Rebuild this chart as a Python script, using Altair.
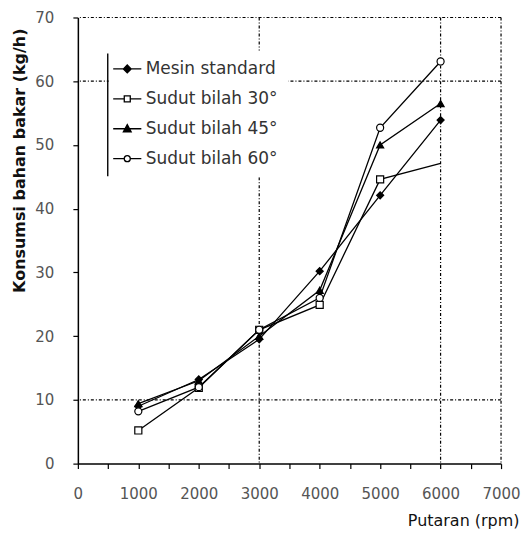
import altair as alt
import pandas as pd

# ---- data ----
rpm = [1000, 2000, 3000, 4000, 5000, 6000]
series_names = ["Mesin standard", "Sudut bilah 30°", "Sudut bilah 45°", "Sudut bilah 60°"]
standard = [9.0, 13.2, 19.5, 30.2, 42.1, 53.9]
sudut30 = [5.2, 11.9, 21.0, 24.9, 44.6, 47.1]
sudut45 = [9.4, 13.0, 20.0, 27.2, 50.0, 56.5]
sudut60 = [8.2, 12.0, 21.0, 26.0, 52.7, 63.1]

x_ticks = list(range(0, 7001, 500))
y_ticks = list(range(0, 71, 10))
grid_x = [3000, 6000, 7000]
grid_y = [10, 60, 70]

marker_shapes = ["diamond", "square", "triangle-up", "circle"]
marker_fills = ["black", "white", "black", "white"]
legend_strokes = ["black", "black", "black", "black"]
legend_paths = [
    "M-4.7,0H4.7M0,-1.3L1.3,0L0,1.3L-1.3,0Z",
    "M-4.7,0H-1M1,0H4.7M-1,-1H1V1H-1Z",
    "M-4.7,0H4.7M0,-1.4L1.3,1H-1.3Z",
    "M-4.7,0H-1M1,0H4.7M1,0A1,1,0,1,1,-1,0A1,1,0,1,1,1,0Z",
]

rows = []
for name, vals in zip(series_names, [standard, sudut30, sudut45, sudut60]):
    for r, v in zip(rpm, vals):
        rows.append({"rpm": r, "val": v, "series": name})
df = pd.DataFrame(rows)

FONT = "DejaVu Sans"
x_scale = alt.Scale(domain=[0, 7000], nice=False, zero=True)
y_scale = alt.Scale(domain=[0, 70], nice=False, zero=True)

x_axis = alt.Axis(
    values=x_ticks, format="d",
    labelExpr="datum.value % 1000 == 0 ? datum.label : ''",
    title="Putaran (rpm)", titleFontWeight="normal", titleFontSize=16,
    titleX=442, titleY=57, titleAlign="right", titleBaseline="middle",
    labelPadding=18, labelFlush=False, labelOverlap=False,
    tickSize=5, grid=False,
)
y_axis = alt.Axis(
    values=y_ticks, format="d",
    title="Konsumsi bahan bakar  (kg/h)", titleFontWeight="bold", titleFontSize=16,
    titleX=-58, titleY=143, titleAlign="center", titleBaseline="middle", titleAngle=270,
    labelPadding=19, labelFlush=False, labelOverlap=False,
    tickSize=5, grid=False,
)

X = alt.X("rpm:Q", scale=x_scale, axis=x_axis, title="Putaran (rpm)")
Y = alt.Y("val:Q", scale=y_scale, axis=y_axis, title="Konsumsi bahan bakar  (kg/h)")

lines = alt.Chart(df).mark_line(color="black", strokeWidth=1.3).encode(
    x=X, y=Y, detail="series:N",
)

grid_v = alt.Chart(pd.DataFrame({"rpm": grid_x})).mark_rule(
    color="black", strokeWidth=1.2, strokeDash=[3, 2, 1, 2]
).encode(x=X)

grid_h = alt.Chart(pd.DataFrame({"val": grid_y})).mark_rule(
    color="black", strokeWidth=1.2, strokeDash=[3, 2, 1, 2]
).encode(y=Y)

points = alt.Chart(df).transform_filter(
    "!(datum.series == 'Sudut bilah 30°' && datum.rpm == 6000)"
).mark_point(filled=True, size=50, stroke="black", strokeWidth=1.2, opacity=1).encode(
    x=X, y=Y,
    shape=alt.Shape("series:N", scale=alt.Scale(domain=series_names, range=marker_shapes), legend=None),
    fill=alt.Fill("series:N", scale=alt.Scale(domain=series_names, range=marker_fills), legend=None),
)

leg = alt.Legend(
    title=None, orient="none", legendX=31, legendY=33, padding=10,
    fillColor="white", labelFont=FONT, labelFontSize=17, labelColor="#333",
    labelOffset=10, symbolSize=36, symbolStrokeColor="black", symbolStrokeWidth=1.3,
    rowPadding=12,
)
legend_layer = alt.Chart(df).transform_filter("false").mark_point(
    filled=True, size=36, strokeWidth=1.3, opacity=1
).encode(
    x=X, y=Y,
    shape=alt.Shape("series:N", scale=alt.Scale(domain=series_names, range=legend_paths), legend=leg),
    fill=alt.Fill("series:N", scale=alt.Scale(domain=series_names, range=marker_fills), legend=leg),
    stroke=alt.Stroke("series:N", scale=alt.Scale(domain=series_names, range=legend_strokes), legend=leg),
)

bar = alt.Chart(pd.DataFrame({"a": [0]})).mark_rule(color="black", strokeWidth=1.5).encode(
    x=alt.value(30), y=alt.value(36), y2=alt.value(159)
)

chart = alt.layer(lines, grid_v, grid_h, points, legend_layer, bar).resolve_scale(
    shape="independent", fill="independent", stroke="independent"
).properties(
    width=424, height=447,
    padding={"left": 3, "top": 2, "right": 0, "bottom": 0},
).configure_view(stroke=None).configure_axis(
    labelFont=FONT, titleFont=FONT, labelFontSize=15, labelColor="#555",
    titleColor="#111", domainColor="black", domainWidth=1.5,
    tickColor="black", tickWidth=1.2,
)

chart.save("out.html", embed_options={"renderer": "svg", "actions": False})
